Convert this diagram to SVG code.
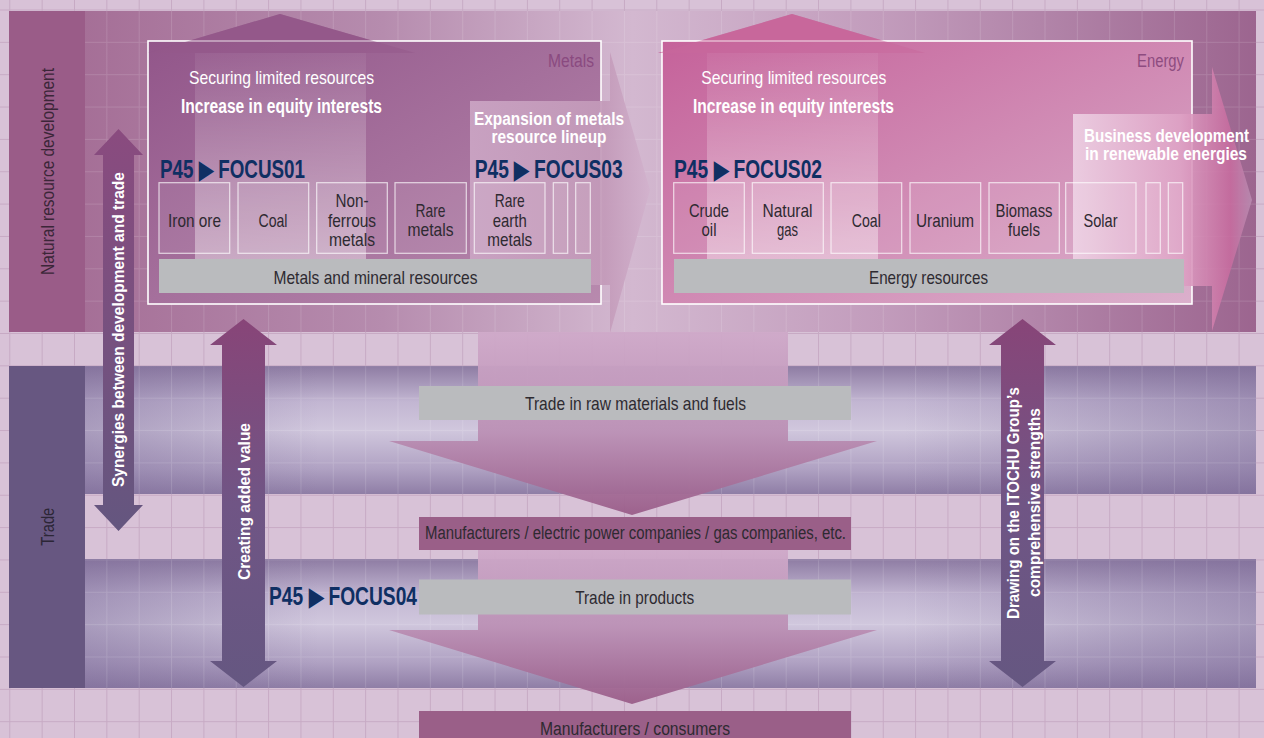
<svg xmlns="http://www.w3.org/2000/svg" width="1264" height="738" viewBox="0 0 1264 738">
<style>
.t{font-family:"Liberation Sans",Arial,sans-serif}
.b{font-weight:bold}
.w{fill:#ffffff}
.d{fill:#2e2a31}
.n{fill:#0f2f63;font-weight:bold;font-size:25px}
.c{text-anchor:middle}
.item{fill:#ffffff;fill-opacity:0.07;stroke:#ffffff;stroke-opacity:0.7;stroke-width:1.2}
.gray{fill:#babbbe}
.mauve{fill:#9a5f88}
.box{stroke:#ffffff;stroke-width:1.6}
</style>
<defs>
<pattern id="grid" x="9.3" y="9.5" width="32.35" height="32.35" patternUnits="userSpaceOnUse">
<path d="M0 0.5H32.35M0.5 0V32.35" stroke="#c7aac4" stroke-width="1" fill="none"/>
</pattern>
<pattern id="gridW" x="9.3" y="9.5" width="32.35" height="32.35" patternUnits="userSpaceOnUse">
<path d="M0 0.5H32.35M0.5 0V32.35" stroke="#ffffff" stroke-opacity="0.13" stroke-width="1" fill="none"/>
</pattern>
<linearGradient id="topBand" x1="0" y1="0" x2="1" y2="0">
<stop offset="0" stop-color="#a16891"/>
<stop offset="0.3" stop-color="#b68cae"/>
<stop offset="0.5" stop-color="#d3b8d0"/>
<stop offset="0.7" stop-color="#c29cbc"/>
<stop offset="1" stop-color="#9c658f"/>
</linearGradient>
<linearGradient id="tradeV" x1="0" y1="0" x2="0" y2="1">
<stop offset="0" stop-color="#8e7ca3"/>
<stop offset="0.28" stop-color="#c2b6d2"/>
<stop offset="0.5" stop-color="#d0c7dd"/>
<stop offset="0.8" stop-color="#b0a2c3"/>
<stop offset="1" stop-color="#8f7ea6"/>
</linearGradient>
<linearGradient id="tradeH" x1="0" y1="0" x2="1" y2="0">
<stop offset="0" stop-color="#7a6896" stop-opacity="0.45"/>
<stop offset="0.2" stop-color="#7a6896" stop-opacity="0"/>
<stop offset="0.7" stop-color="#7a6896" stop-opacity="0"/>
<stop offset="1" stop-color="#7a6896" stop-opacity="0.5"/>
</linearGradient>
<linearGradient id="metalsBox" x1="0" y1="0" x2="1" y2="1">
<stop offset="0" stop-color="#92568a"/>
<stop offset="1" stop-color="#b88aae"/>
</linearGradient>
<linearGradient id="energyBox" x1="0" y1="0" x2="1" y2="1">
<stop offset="0" stop-color="#c5629a"/>
<stop offset="1" stop-color="#dbb0cc"/>
</linearGradient>
<linearGradient id="shaftLight" x1="0" y1="0" x2="0" y2="1">
<stop offset="0" stop-color="#ffffff" stop-opacity="0.05"/>
<stop offset="1" stop-color="#ffffff" stop-opacity="0.4"/>
</linearGradient>
<linearGradient id="expArrow" x1="470" y1="0" x2="650" y2="0" gradientUnits="userSpaceOnUse">
<stop offset="0" stop-color="#cba5c4"/>
<stop offset="0.75" stop-color="#c39ab9"/>
<stop offset="1" stop-color="#d2b2cd"/>
</linearGradient>
<linearGradient id="bizArrow" x1="1073" y1="0" x2="1252" y2="0" gradientUnits="userSpaceOnUse">
<stop offset="0" stop-color="#eed3e5"/>
<stop offset="0.6" stop-color="#dea2c5"/>
<stop offset="0.88" stop-color="#c86c9f"/>
<stop offset="1" stop-color="#b98cb1"/>
</linearGradient>
<linearGradient id="down1" x1="0" y1="332" x2="0" y2="515" gradientUnits="userSpaceOnUse">
<stop offset="0" stop-color="#cfa9c9"/>
<stop offset="0.55" stop-color="#bb90b5"/>
<stop offset="1" stop-color="#9a5d89"/>
</linearGradient>
<linearGradient id="down2" x1="0" y1="550" x2="0" y2="704" gradientUnits="userSpaceOnUse">
<stop offset="0" stop-color="#cfa9c9"/>
<stop offset="0.5" stop-color="#bb90b5"/>
<stop offset="1" stop-color="#9a5d89"/>
</linearGradient>
<linearGradient id="synArrow" x1="0" y1="129" x2="0" y2="531" gradientUnits="userSpaceOnUse">
<stop offset="0" stop-color="#8a4b7f"/>
<stop offset="1" stop-color="#64567f"/>
</linearGradient>
<linearGradient id="dblArrow" x1="0" y1="319" x2="0" y2="687" gradientUnits="userSpaceOnUse">
<stop offset="0" stop-color="#884578"/>
<stop offset="0.5" stop-color="#705585"/>
<stop offset="1" stop-color="#655781"/>
</linearGradient>
</defs>

<!-- background -->
<rect x="0" y="0" width="1264" height="738" fill="#d8c2d7"/>
<rect x="0" y="0" width="1264" height="738" fill="url(#grid)"/>

<!-- bands -->
<g id="band-natural">
<rect x="9" y="11" width="1247" height="321" fill="url(#topBand)"/>
<rect x="9" y="11" width="1247" height="321" fill="url(#gridW)"/>
<rect x="9" y="11" width="76" height="321" fill="#9a5c88"/>
<text class="t c" font-size="18" fill="#3b2638" transform="translate(53.5,171.5) rotate(-90)" textLength="207" lengthAdjust="spacingAndGlyphs">Natural resource development</text>
</g>
<g id="band-trade">
<rect x="85" y="366" width="1171" height="128" fill="url(#tradeV)"/>
<rect x="85" y="366" width="1171" height="128" fill="url(#tradeH)"/>
<rect x="85" y="559" width="1171" height="129" fill="url(#tradeV)"/>
<rect x="85" y="559" width="1171" height="129" fill="url(#tradeH)"/>
<rect x="85" y="366" width="1171" height="128" fill="url(#gridW)"/>
<rect x="85" y="559" width="1171" height="129" fill="url(#gridW)"/>
<rect x="9" y="366" width="76" height="322" fill="#675781"/>
<text class="t c" font-size="18" fill="#2c2636" transform="translate(53.5,526.7) rotate(-90)" textLength="38" lengthAdjust="spacingAndGlyphs">Trade</text>
</g>

<!-- Metals -->
<g id="metals">
<polygon points="148,53 280,14 415,53" fill="#94588a"/>
<rect class="box" x="148" y="41" width="453" height="263" fill="url(#metalsBox)"/>
<polygon points="148,53 280,14 415,53" fill="#94588a" opacity="0.5"/>
<rect x="195" y="53" width="171" height="206" fill="url(#shaftLight)"/>
<text class="t w c" x="281.5" y="84" font-size="19" textLength="185" lengthAdjust="spacingAndGlyphs">Securing limited resources</text>
<text class="t w b c" x="281.5" y="113" font-size="19.5" textLength="201" lengthAdjust="spacingAndGlyphs">Increase in equity interests</text>
<text class="t" x="594" y="66.5" font-size="18" fill="#8a4a80" text-anchor="end" textLength="46" lengthAdjust="spacingAndGlyphs">Metals</text>
</g>

<!-- Energy -->
<g id="energy">
<polygon points="658,53 792,14 925,53" fill="#c8679b"/>
<rect class="box" x="662" y="41" width="530" height="263" fill="url(#energyBox)"/>
<polygon points="658,53 792,14 925,53" fill="#c8679b" opacity="0.5"/>
<rect x="707" y="53" width="171" height="206" fill="url(#shaftLight)"/>
<text class="t w c" x="793.8" y="84" font-size="19" textLength="185" lengthAdjust="spacingAndGlyphs">Securing limited resources</text>
<text class="t w b c" x="793.5" y="113" font-size="19.5" textLength="201" lengthAdjust="spacingAndGlyphs">Increase in equity interests</text>
<text class="t" x="1184" y="66.5" font-size="18" fill="#8e4c80" text-anchor="end" textLength="47" lengthAdjust="spacingAndGlyphs">Energy</text>
</g>

<!-- Expansion arrow -->
<g id="expansion">
<polygon points="470,101 610,101 610,52 650,190 610,333 610,285 470,285" fill="url(#expArrow)" opacity="0.92"/>
<text class="t w b c" x="549" y="125" font-size="18" textLength="150" lengthAdjust="spacingAndGlyphs">Expansion of metals</text>
<text class="t w b c" x="549" y="143.3" font-size="18" textLength="115" lengthAdjust="spacingAndGlyphs">resource lineup</text>
</g>

<!-- Renewable arrow -->
<g id="renewable">
<polygon points="1073,114 1212,114 1212,67 1252,200 1212,331 1212,286 1073,286" fill="url(#bizArrow)" opacity="0.88"/>
<text class="t w b c" x="1166.5" y="141.7" font-size="17.5" textLength="165" lengthAdjust="spacingAndGlyphs">Business development</text>
<text class="t w b c" x="1166" y="160" font-size="17.5" textLength="162" lengthAdjust="spacingAndGlyphs">in renewable energies</text>
</g>

<!-- Metals items -->
<g id="metals-items">
<text class="t n" x="160" y="178" textLength="145" lengthAdjust="spacingAndGlyphs">P45 ▶ FOCUS01</text>
<text class="t n" x="474.7" y="178" textLength="148" lengthAdjust="spacingAndGlyphs">P45 ▶ FOCUS03</text>
<rect class="item" x="159" y="182.7" width="70.7" height="70.6"/>
<rect class="item" x="238" y="182.7" width="70.7" height="70.6"/>
<rect class="item" x="316.7" y="182.7" width="70.6" height="70.6"/>
<rect class="item" x="395" y="182.7" width="71.3" height="70.6"/>
<rect class="item" x="474.3" y="182.7" width="70.7" height="70.6"/>
<rect class="item" x="553.3" y="182.7" width="14.4" height="70.6"/>
<rect class="item" x="575.7" y="182.7" width="14.6" height="70.6"/>
<g class="t d c" font-size="19">
<text x="194.5" y="227" textLength="53" lengthAdjust="spacingAndGlyphs">Iron ore</text>
<text x="273" y="227" textLength="29" lengthAdjust="spacingAndGlyphs">Coal</text>
<text x="352" y="206.7" textLength="33" lengthAdjust="spacingAndGlyphs">Non-</text>
<text x="352" y="226.5" textLength="48" lengthAdjust="spacingAndGlyphs">ferrous</text>
<text x="352" y="245.7" textLength="46" lengthAdjust="spacingAndGlyphs">metals</text>
<text x="430.5" y="216.7" textLength="30" lengthAdjust="spacingAndGlyphs">Rare</text>
<text x="430.5" y="235.5" textLength="46" lengthAdjust="spacingAndGlyphs">metals</text>
<text x="509.7" y="206.7" textLength="30" lengthAdjust="spacingAndGlyphs">Rare</text>
<text x="509.7" y="226.5" textLength="34" lengthAdjust="spacingAndGlyphs">earth</text>
<text x="509.7" y="245.7" textLength="45" lengthAdjust="spacingAndGlyphs">metals</text>
</g>
<rect class="gray" x="159" y="259" width="432" height="34"/>
<text class="t d c" x="375.5" y="283.5" font-size="19" textLength="204" lengthAdjust="spacingAndGlyphs">Metals and mineral resources</text>
</g>

<!-- Energy items -->
<g id="energy-items">
<text class="t n" x="674" y="178" textLength="148" lengthAdjust="spacingAndGlyphs">P45 ▶ FOCUS02</text>
<rect class="item" x="673.7" y="182.7" width="70.6" height="70.6"/>
<rect class="item" x="752.3" y="182.7" width="71" height="70.6"/>
<rect class="item" x="831" y="182.7" width="70.7" height="70.6"/>
<rect class="item" x="910" y="182.7" width="70.7" height="70.6"/>
<rect class="item" x="989" y="182.7" width="70.3" height="70.6"/>
<rect class="item" x="1065.7" y="182.7" width="70.3" height="70.6"/>
<rect class="item" x="1146" y="182.7" width="14.3" height="70.6"/>
<rect class="item" x="1168.3" y="182.7" width="14.4" height="70.6"/>
<g class="t d c" font-size="19">
<text x="709" y="216.7" textLength="40" lengthAdjust="spacingAndGlyphs">Crude</text>
<text x="709" y="235.5" textLength="15" lengthAdjust="spacingAndGlyphs">oil</text>
<text x="787.5" y="216.7" textLength="50" lengthAdjust="spacingAndGlyphs">Natural</text>
<text x="787.5" y="235.5" textLength="21" lengthAdjust="spacingAndGlyphs">gas</text>
<text x="866.3" y="227" textLength="29" lengthAdjust="spacingAndGlyphs">Coal</text>
<text x="945" y="227" textLength="58" lengthAdjust="spacingAndGlyphs">Uranium</text>
<text x="1024" y="216.7" textLength="57" lengthAdjust="spacingAndGlyphs">Biomass</text>
<text x="1024" y="235.5" textLength="32" lengthAdjust="spacingAndGlyphs">fuels</text>
<text x="1100.5" y="227" textLength="34" lengthAdjust="spacingAndGlyphs">Solar</text>
</g>
<rect class="gray" x="674" y="259" width="510" height="34"/>
<text class="t d c" x="928.5" y="283.5" font-size="19" textLength="119" lengthAdjust="spacingAndGlyphs">Energy resources</text>
</g>

<!-- flows -->
<g id="connectors">
<polygon points="478,332 788,332 788,441 877,441 632,515 389,441 478,441" fill="url(#down1)" opacity="0.95"/>
<polygon points="478,550 788,550 788,630 877,630 632,704 389,630 478,630" fill="url(#down2)" opacity="0.95"/>
<polygon points="118.5,129 143,155 134,155 134,505 143,505 118.5,531 94,505 103,505 103,155 94,155" fill="url(#synArrow)"/>
<polygon points="243.5,319 277,345 265,345 265,661 277,661 243.5,687 210,661 222,661 222,345 210,345" fill="url(#dblArrow)"/>
<polygon points="1022.5,319 1056,345 1044,345 1044,661 1056,661 1022.5,687 989,661 1001,661 1001,345 989,345" fill="url(#dblArrow)"/>
<text class="t w b c" font-size="17" transform="translate(124,329.5) rotate(-90)" textLength="315" lengthAdjust="spacingAndGlyphs">Synergies between development and trade</text>
<text class="t w b c" font-size="17" transform="translate(249.5,501.5) rotate(-90)" textLength="157" lengthAdjust="spacingAndGlyphs">Creating added value</text>
<text class="t w b c" font-size="17" transform="translate(1019,503) rotate(-90)" textLength="232" lengthAdjust="spacingAndGlyphs">Drawing on the ITOCHU Group’s</text>
<text class="t w b c" font-size="17" transform="translate(1039.5,502.5) rotate(-90)" textLength="189" lengthAdjust="spacingAndGlyphs">comprehensive strengths</text>
</g>

<!-- middle bars -->
<g id="trade-raw">
<rect class="gray" x="419" y="386" width="432" height="34"/>
<text class="t d c" x="635.5" y="410" font-size="19" textLength="221" lengthAdjust="spacingAndGlyphs">Trade in raw materials and fuels</text>
</g>
<g id="manufacturers-energy">
<rect class="mauve" x="419" y="517" width="432" height="33"/>
<text class="t d c" x="635.5" y="539.3" font-size="18" textLength="421" lengthAdjust="spacingAndGlyphs">Manufacturers / electric power companies / gas companies, etc.</text>
</g>
<g id="trade-products">
<rect class="gray" x="419" y="579.5" width="432" height="35"/>
<text class="t d c" x="634.7" y="604" font-size="19" textLength="119" lengthAdjust="spacingAndGlyphs">Trade in products</text>
<text class="t n" x="269" y="605" textLength="148" lengthAdjust="spacingAndGlyphs">P45 ▶ FOCUS04</text>
</g>
<g id="manufacturers-consumers">
<rect class="mauve" x="419" y="711" width="432" height="27"/>
<text class="t d c" x="635" y="735" font-size="18" textLength="190" lengthAdjust="spacingAndGlyphs">Manufacturers / consumers</text>
</g>
</svg>
